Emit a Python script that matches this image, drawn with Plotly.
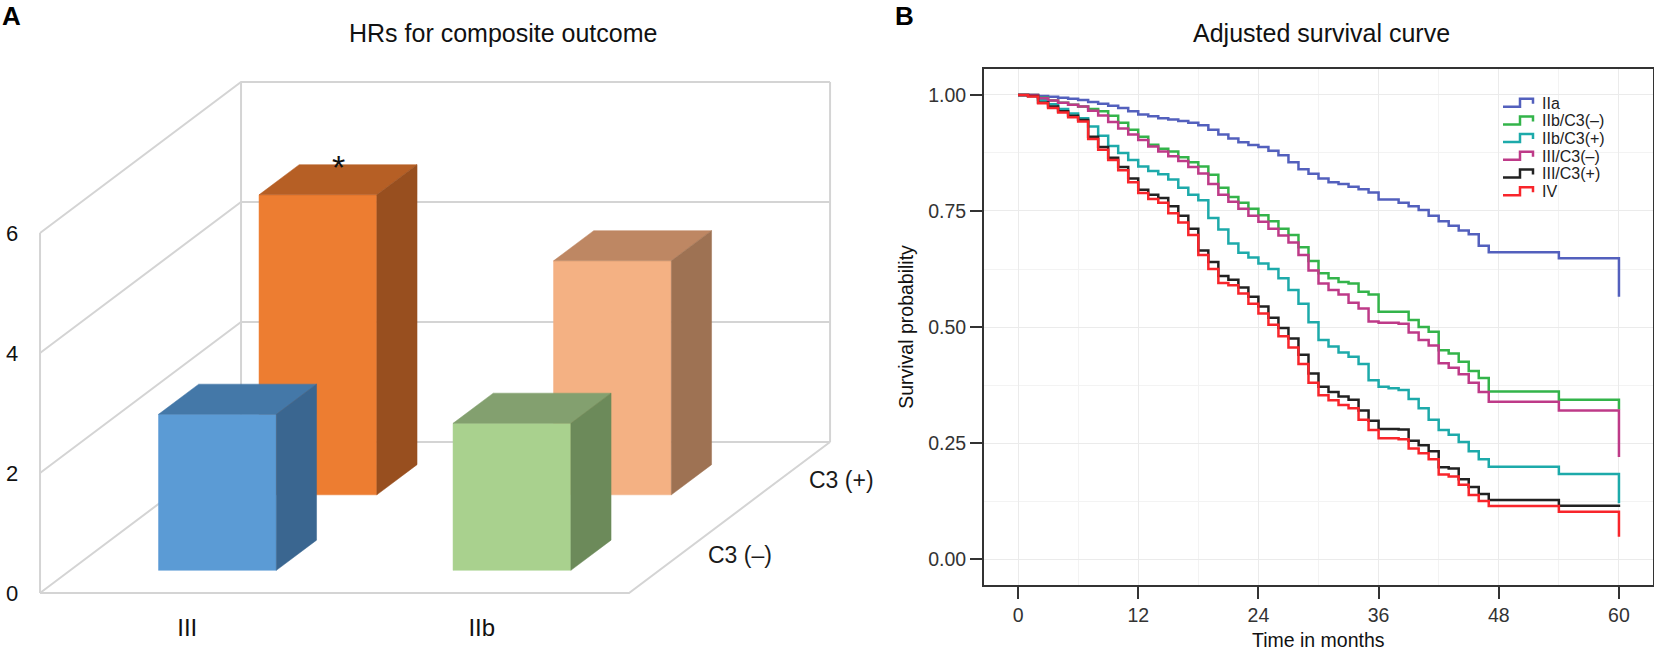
import plotly.graph_objects as go

W, H = 1654, 653
FONT = "Liberation Sans, Arial, sans-serif"

# ---------------- panel A: hazard ratios (3D-looking bars)
categories = ["III", "IIb"]
c3_rows = ["C3 (–)", "C3 (+)"]
hr_c3_neg = [2.6, 2.45]
hr_c3_pos = [5.0, 3.9]
sig_c3_pos = ["*", ""]
wall_ticks = [0, 2, 4, 6]

# ---------------- panel B: adjusted survival curves
groups = ["IIa", "IIb/C3(–)", "IIb/C3(+)", "III/C3(–)", "III/C3(+)", "IV"]
months = list(range(48)) + [54, 60, 60]

surv_IIa = [1.000, 1.000, 0.998, 0.996, 0.994, 0.992, 0.989, 0.985, 0.981, 0.977,
            0.972, 0.965, 0.958, 0.954, 0.950, 0.947, 0.944, 0.940, 0.935, 0.925,
            0.915, 0.906, 0.898, 0.892, 0.888, 0.880, 0.870, 0.855, 0.840, 0.830,
            0.820, 0.812, 0.808, 0.802, 0.797, 0.790, 0.775, 0.775, 0.768, 0.760,
            0.752, 0.740, 0.728, 0.718, 0.708, 0.700, 0.675, 0.661,
            0.648, 0.648, 0.565]
surv_IIb_neg = [1.000, 1.000, 0.994, 0.988, 0.983, 0.979, 0.975, 0.970, 0.965, 0.955,
                0.940, 0.925, 0.910, 0.893, 0.884, 0.878, 0.866, 0.855, 0.846, 0.828,
                0.800, 0.780, 0.768, 0.755, 0.741, 0.728, 0.712, 0.698, 0.672, 0.642,
                0.616, 0.605, 0.597, 0.594, 0.576, 0.570, 0.533, 0.533, 0.533, 0.515,
                0.500, 0.490, 0.450, 0.443, 0.425, 0.405, 0.390, 0.361,
                0.343, 0.343, 0.322]
surv_IIb_pos = [1.000, 0.998, 0.990, 0.980, 0.970, 0.960, 0.950, 0.932, 0.912, 0.890,
                0.875, 0.860, 0.846, 0.836, 0.829, 0.818, 0.800, 0.785, 0.773, 0.735,
                0.710, 0.680, 0.660, 0.650, 0.637, 0.625, 0.605, 0.580, 0.550, 0.510,
                0.472, 0.458, 0.445, 0.436, 0.420, 0.385, 0.371, 0.368, 0.364, 0.345,
                0.325, 0.300, 0.278, 0.268, 0.252, 0.232, 0.215, 0.199,
                0.183, 0.183, 0.120]
surv_III_neg = [1.000, 1.000, 0.993, 0.988, 0.983, 0.979, 0.975, 0.966, 0.956, 0.942,
                0.928, 0.915, 0.903, 0.889, 0.878, 0.868, 0.858, 0.845, 0.831, 0.808,
                0.785, 0.770, 0.755, 0.740, 0.727, 0.712, 0.697, 0.682, 0.655, 0.622,
                0.594, 0.580, 0.570, 0.552, 0.540, 0.512, 0.509, 0.509, 0.507, 0.488,
                0.472, 0.460, 0.422, 0.412, 0.398, 0.380, 0.360, 0.339,
                0.320, 0.320, 0.220]
surv_III_pos = [1.000, 0.998, 0.984, 0.975, 0.965, 0.955, 0.946, 0.910, 0.888, 0.865,
                0.845, 0.820, 0.796, 0.785, 0.778, 0.760, 0.740, 0.712, 0.665, 0.640,
                0.610, 0.602, 0.585, 0.565, 0.544, 0.520, 0.498, 0.475, 0.440, 0.400,
                0.371, 0.360, 0.350, 0.343, 0.320, 0.298, 0.280, 0.280, 0.279, 0.255,
                0.245, 0.232, 0.198, 0.195, 0.172, 0.155, 0.140, 0.127,
                0.115, 0.115, 0.112]
surv_IV = [1.000, 0.997, 0.982, 0.972, 0.962, 0.952, 0.943, 0.905, 0.882, 0.860,
           0.838, 0.812, 0.789, 0.776, 0.768, 0.745, 0.725, 0.698, 0.655, 0.625,
           0.595, 0.590, 0.572, 0.550, 0.529, 0.505, 0.480, 0.456, 0.420, 0.380,
           0.353, 0.342, 0.332, 0.325, 0.300, 0.278, 0.260, 0.260, 0.258, 0.238,
           0.228, 0.215, 0.182, 0.178, 0.160, 0.138, 0.125, 0.114,
           0.102, 0.102, 0.048]

curves = [surv_IIa, surv_IIb_neg, surv_IIb_pos, surv_III_neg, surv_III_pos, surv_IV]
curve_colors = ["#5360BD", "#33B44A", "#1DAAAA", "#BE3A88", "#222222", "#F8252B"]

# 3D look of panel A: oblique projection, depth goes up and to the right
DX = 0.6825   # full depth shift in category units
DY = 2.517    # full depth shift in HR units
BAR_W = 0.4
BAR_D = 0.2
row_depth = [0.25, 0.75]
bar_cols = {  # (row, category): (front, top, side)
    (0, 0): ("#5B9BD5", "#4478A8", "#3A6690"),
    (1, 0): ("#ED7D31", "#B65F25", "#984F1F"),
    (0, 1): ("#A9D18E", "#83A06F", "#6C8A5A"),
    (1, 1): ("#F4B183", "#BE8763", "#9E7253"),
}


def box_faces(xc, depth, h):
    x0, x1 = xc - BAR_W / 2, xc + BAR_W / 2
    d0, d1 = depth - BAR_D / 2, depth + BAR_D / 2
    ax, ay = DX * d0, DY * d0
    bx, by = DX * d1, DY * d1
    front = ([x0 + ax, x1 + ax, x1 + ax, x0 + ax, x0 + ax], [ay, ay, ay + h, ay + h, ay])
    top = ([x0 + ax, x1 + ax, x1 + bx, x0 + bx, x0 + ax], [ay + h, ay + h, by + h, by + h, ay + h])
    side = ([x1 + ax, x1 + bx, x1 + bx, x1 + ax, x1 + ax], [ay, by, by + h, ay + h, ay])
    return front, top, side


fig = go.Figure()

# walls and floor
n_cat = len(categories)
wx, wy = [], []
for g in wall_ticks:
    wx += [0, DX, n_cat + DX, None]
    wy += [g, g + DY, g + DY, None]
top = wall_ticks[-1]
for seg in [([0, 0], [0, top]), ([DX, DX], [DY, top + DY]),
            ([n_cat + DX, n_cat + DX], [DY, top + DY]),
            ([0, n_cat, n_cat + DX], [0, 0, DY])]:
    wx += seg[0] + [None]
    wy += seg[1] + [None]
fig.add_trace(go.Scatter(x=wx, y=wy, mode="lines", line=dict(color="#D4D4D4", width=2),
                         hoverinfo="skip", showlegend=False, xaxis="x", yaxis="y"))

hr_rows = [hr_c3_neg, hr_c3_pos]
for r in [1, 0]:
    for c in range(n_cat):
        faces = box_faces(c + 0.5, row_depth[r], hr_rows[r][c])
        for (fx, fy), col in zip(faces, bar_cols[(r, c)]):
            fig.add_trace(go.Scatter(x=fx, y=fy, fill="toself", fillcolor=col, mode="lines",
                                     line=dict(color=col, width=0.5), hoverinfo="skip",
                                     showlegend=False, xaxis="x", yaxis="y"))

annotations = []
for c, s in enumerate(sig_c3_pos):
    if s:
        annotations.append(dict(text=s, x=c + 0.5 + DX * row_depth[1],
                                y=hr_c3_pos[c] + DY * (row_depth[1] + BAR_D / 2),
                                xref="x", yref="y", showarrow=False, xanchor="center",
                                yanchor="middle", yshift=-2,
                                font=dict(size=34, color="#111111", family=FONT)))
for r, lab in enumerate(c3_rows):
    annotations.append(dict(text=lab, x=n_cat + DX * row_depth[r], y=DY * row_depth[r],
                            xref="x", yref="y", xanchor="left", yanchor="middle", xshift=27,
                            showarrow=False, font=dict(size=23, color="#1a1a1a", family=FONT)))

# survival curves
for name, surv, col in zip(groups, curves, curve_colors):
    fig.add_trace(go.Scatter(x=months, y=surv, mode="lines", line_shape="hv",
                             line=dict(color=col, width=2.5), name=name,
                             showlegend=False, xaxis="x2", yaxis="y2"))

# hand-made legend with step keys (like the survminer one)
shapes = []
for i, (name, col) in enumerate(zip(groups, curve_colors)):
    yc = 103 + 17.7 * i
    pts = [(1503, yc + 3.7), (1520, yc + 3.7), (1520, yc - 4.3), (1533, yc - 4.3), (1533, yc + 0.7)]
    path = "M " + " L ".join(f"{px / W:.5f},{1 - py / H:.5f}" for px, py in pts)
    shapes.append(dict(type="path", path=path, xref="paper", yref="paper",
                       line=dict(color=col, width=2.5)))
    annotations.append(dict(text=name, x=1540 / W, y=1 - yc / H, xref="paper", yref="paper",
                            xanchor="left", yanchor="middle", showarrow=False,
                            font=dict(size=16, color="#222222", family=FONT)))

# titles and panel letters
for txt, px in [("HRs for composite outcome", 503), ("Adjusted survival curve", 1321)]:
    annotations.append(dict(text=txt, x=px / W, y=1 - 33 / H, xref="paper", yref="paper",
                            xanchor="center", yanchor="middle", showarrow=False,
                            font=dict(size=25, color="#111111", family=FONT)))
for txt, px in [("<b>A</b>", 11), ("<b>B</b>", 904)]:
    annotations.append(dict(text=txt, x=px / W, y=1 - 16 / H, xref="paper", yref="paper",
                            xanchor="center", yanchor="middle", showarrow=False,
                            font=dict(size=26, color="#000000", family=FONT)))
# x title of panel B, placed low like in the original
annotations.append(dict(text="Time in months", x=1318.5 / W, y=1 - 640 / H, xref="paper",
                        yref="paper", xanchor="center", yanchor="middle", showarrow=False,
                        font=dict(size=19.5, color="#111111", family=FONT)))

fig.update_layout(
    width=W, height=H, autosize=False,
    margin=dict(l=0, r=0, t=0, b=0),
    paper_bgcolor="white", plot_bgcolor="white",
    font=dict(family=FONT, color="#222222"),
    xaxis=dict(domain=[25.3 / W, 841.1 / W], range=[-0.05, 2.72],
               tickvals=[c + 0.5 for c in range(n_cat)], ticktext=categories,
               showgrid=False, zeroline=False, showline=False, ticks="",
               tickfont=dict(size=24, color="#111111")),
    yaxis=dict(domain=[(H - 611) / H, (H - 53) / H], range=[-0.3, 9.0],
               tickvals=wall_ticks, showgrid=False, zeroline=False, showline=False,
               ticks="", ticklabelstandoff=6, tickfont=dict(size=22, color="#111111")),
    xaxis2=dict(domain=[984 / W, 1653 / W], range=[-3.4, 63.4], anchor="y2",
                tickvals=list(range(0, 61, 12)), ticks="outside", ticklen=12, tickwidth=1.8,
                tickcolor="#333333", showline=True, mirror=True, linecolor="#333333",
                linewidth=1.8, zeroline=False, gridcolor="#EBEBEB", gridwidth=1,
                minor=dict(dtick=6, tick0=0, showgrid=True, gridcolor="#F3F3F3", ticks=""),
                tickfont=dict(size=19.5, color="#333333")),
    yaxis2=dict(domain=[(H - 585) / H, (H - 69) / H], range=[-0.056, 1.056], anchor="x2",
                tickvals=[0, 0.25, 0.5, 0.75, 1.0], tickformat=".2f", ticks="outside",
                ticklen=12, tickwidth=1.8, tickcolor="#333333", showline=True, mirror=True,
                linecolor="#333333", linewidth=1.8, zeroline=False, gridcolor="#EBEBEB",
                minor=dict(dtick=0.125, tick0=0, showgrid=True, gridcolor="#F3F3F3", ticks=""),
                tickfont=dict(size=19.5, color="#333333"),
                title=dict(text="Survival probability", font=dict(size=19.5, color="#111111"), standoff=9)),
    shapes=shapes,
    annotations=annotations,
)

# page has a default 8px body margin; drop it so the figure fills the window
fig.write_html("out.html", config={"displayModeBar": False},
               post_script="document.body.style.margin='0px';")
